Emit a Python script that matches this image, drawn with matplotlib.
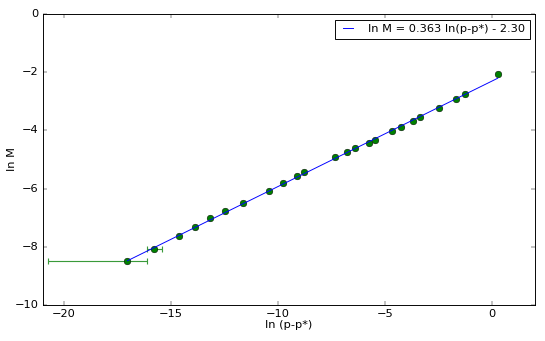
import matplotlib
matplotlib.use("Agg")
import matplotlib.pyplot as plt
import numpy as np

plt.style.use('classic')

# ln(p-p*) and ln M
ln_dp = [-17.04, -15.78, -14.64, -13.90, -13.16, -12.46, -11.64, -10.45,
         -9.75, -9.13, -8.77, -7.34, -6.77, -6.42, -5.76, -5.48,
         -4.69, -4.27, -3.72, -3.38, -2.48, -1.71, -1.28, 0.25]
ln_m = [-8.49, -8.09, -7.64, -7.33, -7.03, -6.76, -6.49, -6.09,
        -5.82, -5.58, -5.44, -4.92, -4.74, -4.62, -4.42, -4.32,
        -4.02, -3.87, -3.68, -3.55, -3.23, -2.91, -2.74, -2.07]
# asymmetric x errors (only the first two are visible)
xerr_lo = [3.71, 0.32]
xerr_hi = [0.90, 0.36]

slope = 0.363
intercept = -2.30

x = np.array(ln_dp)
y = np.array(ln_m)

fig = plt.figure(figsize=(545 / 68.2, 341 / 68.2), dpi=68.2)
ax = fig.add_subplot(111)
fig.subplots_adjust(left=0.078, right=0.982, bottom=0.106, top=0.959)

ax.errorbar(x[:2], y[:2], xerr=[xerr_lo, xerr_hi], fmt='none',
            ecolor='#3a9a3a', capsize=3, elinewidth=1.2, capthick=1.2)
ax.plot(x, y, 'go', markersize=7)
xf = np.array([x.min(), x.max()])
ax.plot(xf, slope * xf + intercept, 'b-',
        label='ln M = %.3f ln(p-p*) - %.2f' % (slope, -intercept))

ax.set_xlim(-21, 2)
ax.set_ylim(-10, 0)
ax.set_xticks([-20, -15, -10, -5, 0])
ax.set_xlabel('ln (p-p*)', labelpad=1)
ax.set_ylabel('ln M', labelpad=-2)
ax.legend(loc='upper right', fontsize=12, handlelength=1.5, handletextpad=1.0)

plt.savefig('out.png', dpi=68.2)
